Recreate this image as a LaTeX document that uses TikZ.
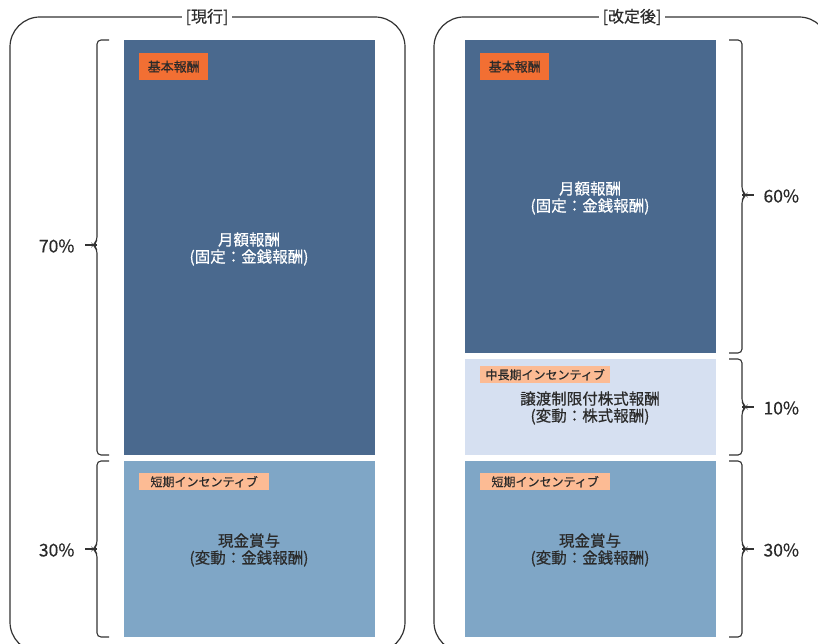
\documentclass[tikz,border=0pt]{standalone}
\usepackage{fontspec}
\setmainfont[FakeBold=0.5]{Noto Sans CJK JP}
\definecolor{darkbar}{HTML}{4A698E}
\definecolor{lightbar}{HTML}{7FA6C6}
\definecolor{lavbar}{HTML}{D6E0F1}
\definecolor{tagorange}{HTML}{F26F33}
\definecolor{tagpeach}{HTML}{FCBB94}
\definecolor{txt}{HTML}{2A2A2A}
\definecolor{frame}{HTML}{333333}
\tikzset{
  panel/.style={draw=frame, line width=1.2pt, rounded corners=30pt},
  bar/.style={draw=none, anchor=north west, inner sep=0pt},
  tagbox/.style={anchor=north west, inner sep=0pt, minimum height=17pt, text=txt, font=\fontsize{12}{13}\selectfont},
  maintext/.style={align=center, font=\fontsize{15.5}{17}\selectfont, text=txt},
  pct/.style={font=\fontsize{17.5}{19}\selectfont, text=txt},
  brace/.style={draw=frame, line width=1.1pt, rounded corners=4pt},
  title/.style={fill=white, inner xsep=4pt, font=\fontsize{16}{18}\selectfont, text=txt}
}
\begin{document}
\begin{tikzpicture}[x=1pt, y=-1pt]
\useasboundingbox (0,0) rectangle (818,644);
% panels
\draw[panel] (10,17) rectangle (405,652);
\draw[panel] (434,17) rectangle (829,652);
\node[title] (t1) at (207,17) {[現行]};
\node[title] (t2) at (632,17) {[改定後]};
% left bars
\node[bar, fill=darkbar, minimum width=251pt, minimum height=415pt] (l1) at (124,40) {};
\node[bar, fill=lightbar, minimum width=251pt, minimum height=176pt] (l2) at (124,461) {};
% right bars
\node[bar, fill=darkbar, minimum width=251pt, minimum height=313pt] (r1) at (465,40) {};
\node[bar, fill=lavbar, minimum width=251pt, minimum height=96pt] (r2) at (465,359) {};
\node[bar, fill=lightbar, minimum width=251pt, minimum height=176pt] (r3) at (465,461) {};
% tags
\node[tagbox, fill=tagorange, minimum width=69pt, minimum height=27pt, font=\fontsize{13}{14}\selectfont] (lt1) at (139,53) {基本報酬};
\node[tagbox, fill=tagorange, minimum width=69pt, minimum height=27pt, font=\fontsize{13}{14}\selectfont] (rt1) at (480,53) {基本報酬};
\node[tagbox, fill=tagpeach, minimum width=130pt] (lt2) at (139,473) {短期インセンティブ};
\node[tagbox, fill=tagpeach, minimum width=130pt] (rt3) at (480,473) {短期インセンティブ};
\node[tagbox, fill=tagpeach, minimum width=130pt] (rt2) at (480,366) {中長期インセンティブ};
% main texts
\node[maintext, text=white] (m1) at (249,249) {月額報酬\\(固定：金銭報酬)};
\node[maintext, text=white] (m2) at (590,198) {月額報酬\\(固定：金銭報酬)};
\node[maintext] (m3) at (590,408) {譲渡制限付株式報酬\\(変動：株式報酬)};
\node[maintext] (m4) at (249,550) {現金賞与\\(変動：金銭報酬)};
\node[maintext] (m5) at (590,550) {現金賞与\\(変動：金銭報酬)};
% left braces
\draw[brace] (109,40) -- (97,40) -- (97,241) -- (93,245) -- (97,249) -- (97,455) -- (109,455);
\draw[brace] (97,245) -- (85,245);
\draw[brace] (109,461) -- (97,461) -- (97,545) -- (93,549) -- (97,553) -- (97,637) -- (109,637);
\draw[brace] (97,549) -- (85,549);
\node[pct, anchor=east] (p1) at (78,246) {70\%};
\node[pct, anchor=east] (p2) at (78,550) {30\%};
% right braces
\draw[brace] (729,40) -- (742,40) -- (742,191) -- (746,195) -- (742,199) -- (742,353) -- (729,353);
\draw[brace] (742,195) -- (754,195);
\draw[brace] (729,359) -- (742,359) -- (742,403) -- (746,407) -- (742,411) -- (742,455) -- (729,455);
\draw[brace] (742,407) -- (754,407);
\draw[brace] (729,461) -- (742,461) -- (742,545) -- (746,549) -- (742,553) -- (742,637) -- (729,637);
\draw[brace] (742,549) -- (754,549);
\node[pct, anchor=west] (p3) at (760,196) {60\%};
\node[pct, anchor=west] (p4) at (760,408) {10\%};
\node[pct, anchor=west] (p5) at (760,550) {30\%};
\end{tikzpicture}
\end{document}
